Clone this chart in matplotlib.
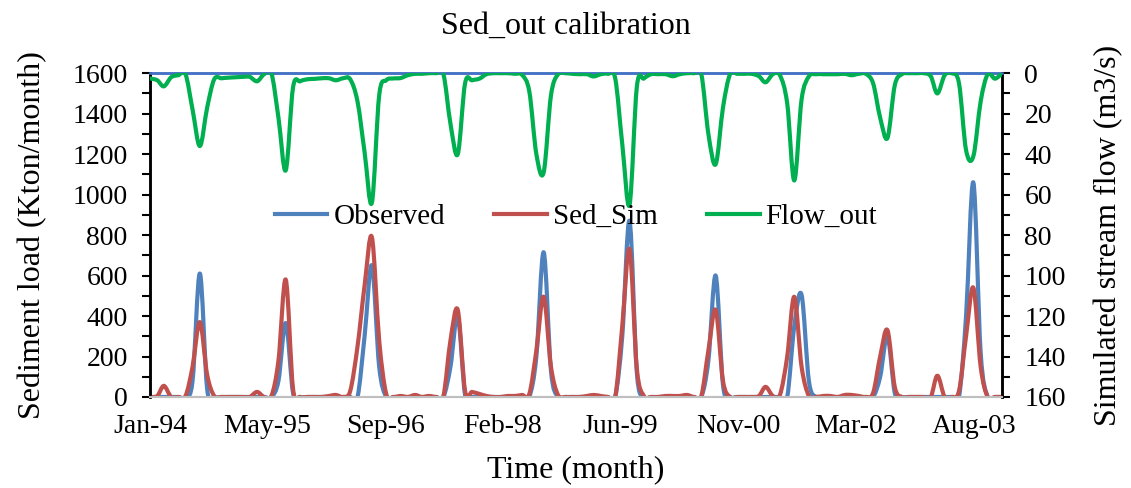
import numpy as np
import pandas as pd
import matplotlib
matplotlib.use('Agg')
import matplotlib.pyplot as plt
from matplotlib import dates as mdates
from matplotlib.path import Path
from matplotlib.patches import PathPatch
from matplotlib.lines import Line2D
from matplotlib.ticker import MultipleLocator

plt.rcParams['font.family'] = ['Liberation Serif', 'DejaVu Serif']

# monthly series Jan-1994 .. Dec-2003
months = pd.date_range('1994-01-01', '2003-12-01', freq='MS')

observed = [0, 0, 0, 0, 0, 0, 80, 610, 40, 0, 0, 0,
            0, 0, 0, 0, 0, 0, 80, 365, 20, 0, 0, 0,
            0, 0, 0, 0, 0, 0, 300, 650, 150, 0, 0, 0,
            0, 0, 0, 0, 0, 0, 150, 400, 10, 0, 0, 0,
            0, 0, 0, 0, 0, 0, 200, 715, 130, 0, 0, 0,
            0, 0, 0, 0, 0, 0, 300, 870, 120, 0, 0, 0,
            0, 0, 0, 0, 0, 0, 180, 600, 60, 0, 0, 0,
            0, 0, 0, 0, 0, 0, 350, 505, 80, 0, 0, 0,
            0, 0, 0, 0, 0, 0, 100, 300, 20, 0, 0, 0,
            0, 0, 0, 0, 0, 0, 400, 1060, 220, 0, 0, 0]

sed_sim = [0, 5, 55, 0, 0, 5, 150, 370, 110, 5, 0, 0,
           0, 0, 0, 25, 0, 5, 180, 580, 40, 0, 0, 0,
           0, 5, 10, 0, 30, 250, 550, 790, 280, 15, 0, 5,
           0, 10, 0, 5, 0, 5, 280, 430, 30, 25, 15, 5,
           0, 0, 5, 5, 10, 15, 230, 495, 150, 10, 0, 0,
           0, 5, 10, 5, 0, 0, 350, 730, 140, 5, 0, 0,
           5, 5, 5, 10, 0, 5, 230, 430, 80, 0, 0, 0,
           0, 5, 50, 5, 10, 200, 495, 150, 5, 0, 5, 5,
           0, 10, 10, 5, 0, 20, 200, 330, 50, 0, 0, 0,
           0, 0, 105, 0, 0, 30, 300, 540, 150, 0, 0, 0]

flow_out = [2.6, 3.5, 6.5, 2, 1, 0.5, 18, 36, 17, 3, 2.5, 2.2,
            2, 1.8, 1.8, 4, 0.5, 0, 22, 48, 7, 4, 3, 2.8,
            2.5, 2.5, 3.5, 2.5, 3, 14, 39, 64, 11, 3.5, 2.6, 2.4,
            1, 0.3, 0.3, 0, 0, 0.5, 25, 40, 5, 3.5, 2.7, 0.5,
            0, 0, 0, 0.3, 0.8, 9, 40, 49, 11, 0.5, 0, 0.3,
            0.5, 0.5, 1.6, 0.5, 0.3, 2.5, 35, 65, 6.7, 2.6, 0.5, 0.5,
            0.5, 1.5, 0.5, 0, 0, 0.5, 30, 45, 17, 0.5, 0.3, 0.3,
            0.3, 1.5, 4.5, 0.5, 1, 15, 53, 13, 1.6, 0.5, 0.5, 0.5,
            0.5, 0.3, 1, 0.3, 0.3, 5, 22, 32, 6, 0.5, 0, 0,
            0, 1.5, 10, 1, 0, 5, 38, 41, 14, 0.5, 2.7, 0]

c_obs = '#4f81bd'
c_sim = '#c0504d'
c_flow = '#00b050'
LW = 3.0


def smooth_line(ax, xs, ys, color):
    # Excel-style smoothed line: cubic Bezier through every point
    xs = np.asarray(xs, float)
    ys = np.asarray(ys, float)
    n = len(xs)
    verts = [(xs[0], ys[0])]
    codes = [Path.MOVETO]
    for i in range(n - 1):
        a = max(i - 1, 0)
        b = min(i + 2, n - 1)
        c1 = (xs[i] + (xs[i + 1] - xs[a]) / 6, ys[i] + (ys[i + 1] - ys[a]) / 6)
        c2 = (xs[i + 1] - (xs[b] - xs[i]) / 6, ys[i + 1] - (ys[b] - ys[i]) / 6)
        verts += [c1, c2, (xs[i + 1], ys[i + 1])]
        codes += [Path.CURVE4] * 3
    patch = PathPatch(Path(verts, codes), facecolor='none', edgecolor=color,
                      lw=LW, capstyle='round', joinstyle='round', zorder=3)
    ax.add_patch(patch)


fig = plt.figure(figsize=(11.31, 4.88), dpi=100)
ax = fig.add_axes([0.1326, 0.1865, 0.7534, 0.6635])
ax2 = ax.twinx()

xnum = mdates.date2num(months)
smooth_line(ax, xnum, observed, c_obs)
smooth_line(ax, xnum, sed_sim, c_sim)
smooth_line(ax2, xnum, flow_out, c_flow)

ax.set_xlim(xnum[0], xnum[-1])
ax.set_ylim(0, 1600)
ax2.set_ylim(160, 0)

# date axis ticks every 500 days from Jan-94
ticks = [xnum[0] + 500 * k for k in range(8)]
ax.set_xticks(ticks)
ax.xaxis.set_major_formatter(mdates.DateFormatter('%b-%y'))
ax.tick_params(axis='x', length=0, pad=12, labelsize=20)

ax.yaxis.set_major_locator(MultipleLocator(200))
ax.yaxis.set_minor_locator(MultipleLocator(100))
ax.tick_params(axis='y', which='both', direction='out', length=6, width=1.5,
               labelsize=20, pad=10)
ax2.yaxis.set_major_locator(MultipleLocator(20))
ax2.yaxis.set_minor_locator(MultipleLocator(10))
ax2.tick_params(axis='y', which='both', direction='out', length=6, width=1.5,
                labelsize=20, pad=10)

for a in (ax, ax2):
    a.spines['left'].set_linewidth(1.8)
    a.spines['right'].set_linewidth(1.8)
    a.spines['bottom'].set_color('#bfbfbf')
    a.spines['bottom'].set_linewidth(1.5)
    a.spines['top'].set_color('#4472c4')
    a.spines['top'].set_linewidth(1.8)

ax.set_ylabel('Sediment load (Kton/month)', fontsize=23, labelpad=18)
ax2.set_ylabel('Simulated stream flow (m3/s)', fontsize=23, labelpad=20)
ax.set_xlabel('Time (month)', fontsize=23, labelpad=12)
fig.suptitle('Sed_out calibration', fontsize=23, y=0.975)

handles = [Line2D([], [], color=c_obs, lw=LW),
           Line2D([], [], color=c_sim, lw=LW),
           Line2D([], [], color=c_flow, lw=LW)]
ax2.legend(handles, ['Observed', 'Sed_Sim', 'Flow_out'], ncol=3, loc='center',
           bbox_to_anchor=(0.5, 0.556), frameon=False, fontsize=21,
           handlelength=1.8, handletextpad=0.2, columnspacing=1.7)

fig.savefig('out.png', dpi=100)
